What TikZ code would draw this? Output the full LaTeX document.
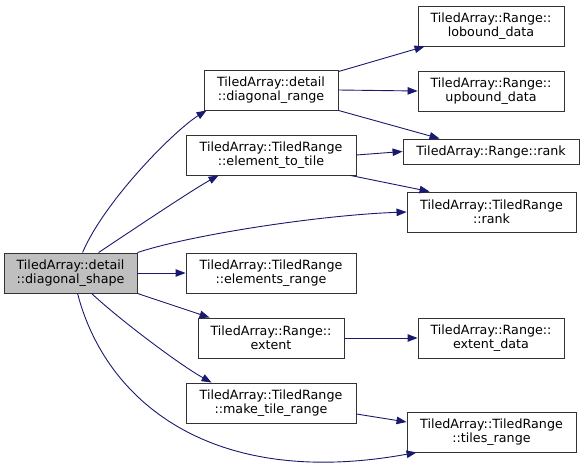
\documentclass[tikz,border=0pt]{standalone}
\usepackage{fontspec}
\setmainfont{DejaVu Sans}
\usetikzlibrary{arrows.meta}
\definecolor{edgeblue}{HTML}{191970}
\definecolor{boxline}{HTML}{333333}
\definecolor{rootfill}{HTML}{BFBFBF}
\begin{document}
\begin{tikzpicture}[x=1pt,y=-1pt,
  fn/.style={draw=boxline, line width=0.9pt, fill=white, rectangle, inner sep=0pt, align=center,
    minimum height=40pt, font=\fontsize{12.7}{13.6}\selectfont},
  rootfn/.style={fn, fill=rootfill},
  call/.style={draw=edgeblue, line width=0.9pt, -{Triangle[length=10pt,width=7.5pt]}}]
\useasboundingbox (0,0) rectangle (584,469);
\node[rootfn, minimum width=133pt] (root) at (70.5,273) {TiledArray::detail\\::diagonal\_shape};
\node[fn, minimum width=134pt] (dr) at (271,90) {TiledArray::detail\\::diagonal\_range};
\node[fn, minimum width=170pt] (ett) at (271,155) {TiledArray::TiledRange\\::element\_to\_tile};
\node[fn, minimum width=170pt] (er) at (271,273) {TiledArray::TiledRange\\::elements\_range};
\node[fn, minimum width=146pt] (ext) at (271,338) {TiledArray::Range::\\extent};
\node[fn, minimum width=170pt] (mtr) at (271,403) {TiledArray::TiledRange\\::make\_tile\_range};
\node[fn, minimum width=146pt] (lb) at (491,26) {TiledArray::Range::\\lobound\_data};
\node[fn, minimum width=146pt] (ub) at (491,91) {TiledArray::Range::\\upbound\_data};
\node[fn, minimum width=176pt, minimum height=25pt] (rr) at (491,151.5) {TiledArray::Range::rank};
\node[fn, minimum width=169pt] (trr) at (491.5,212) {TiledArray::TiledRange\\::rank};
\node[fn, minimum width=146pt] (ed) at (491,338) {TiledArray::Range::\\extent\_data};
\node[fn, minimum width=169pt] (tr) at (491.5,432) {TiledArray::TiledRange\\::tiles\_range};

\draw[call] ([xshift=79pt]root.north west) .. controls (105,200) and (175,130) .. ([xshift=3pt]dr.south west);
\draw[call] ([xshift=95pt]root.north west) .. controls (125,235) and (192,190) .. ([xshift=33pt]ett.south west);
\draw[call] (root.north east) .. controls (190,235) and (320,215) .. (trr.west);
\draw[call] (root.east) -- (er.west);
\draw[call] (root.south east) -- ([xshift=12pt]ext.north west);
\draw[call] ([xshift=88pt]root.south west) .. controls (120,320) and (180,365) .. ([xshift=26pt]mtr.north west);
\draw[call] ([xshift=74pt]root.south west) .. controls (105,400) and (210,490) .. ([xshift=10pt]tr.south west);
\draw[call] ([yshift=-2pt]dr.north east) -- ([xshift=7pt]lb.south west);
\draw[call] (dr.east) -- (ub.west);
\draw[call] (dr.south east) -- ([xshift=37pt]rr.north west);
\draw[call] (ett.east) -- (rr.west);
\draw[call] ([xshift=-6pt]ett.south east) -- ([xshift=23pt]trr.north west);
\draw[call] (ext.east) -- (ed.west);
\draw[call] ([yshift=-11pt]mtr.east) -- ([yshift=10pt]tr.west);
\end{tikzpicture}
\end{document}
